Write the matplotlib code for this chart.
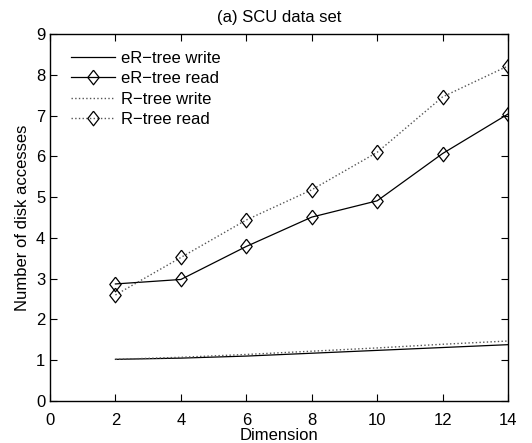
import matplotlib.pyplot as plt

plt.rcParams['font.family'] = ['Liberation Sans', 'DejaVu Sans']

dims = [2, 4, 6, 8, 10, 12, 14]
er_write = [1.02, 1.05, 1.10, 1.17, 1.24, 1.31, 1.38]
er_read = [2.87, 2.98, 3.79, 4.51, 4.91, 6.07, 7.04]
r_write = [1.02, 1.07, 1.14, 1.22, 1.30, 1.39, 1.47]
r_read = [2.60, 3.52, 4.44, 5.18, 6.10, 7.46, 8.22]

# matlab style diamond, a bit taller than wide
diamond = [(0, 1), (0.78, 0), (0, -1), (-0.78, 0), (0, 1)]

fig = plt.figure(figsize=(5.32, 4.43), dpi=100)
ax = fig.add_axes([0.094, 0.095, 0.861, 0.828])

ax.plot(dims, er_write, color='black', lw=0.9, label='eR\u2212tree write')
ax.plot(dims, er_read, color='black', lw=0.9, marker=diamond, ms=10.5, mfc='none',
        mec='black', mew=0.9, label='eR\u2212tree read')
ax.plot(dims, r_write, color='#555555', lw=1.0, ls=':', label='R\u2212tree write')
ax.plot(dims, r_read, color='#555555', lw=1.0, ls=':', marker=diamond, ms=10.5,
        mfc='none', mec='black', mew=0.9, label='R\u2212tree read')

ax.set_xlim(0, 14)
ax.set_ylim(0, 9)
ax.set_xticks(range(0, 15, 2))
ax.set_yticks(range(0, 10))
ax.tick_params(direction='in', top=True, right=True, labelsize=12, length=5, width=0.8)
ax.tick_params(axis='x', pad=9)
for s in ax.spines.values():
    s.set_linewidth(1.0)

ax.set_xlabel('Dimension', fontsize=12, labelpad=0)
ax.set_ylabel('Number of disk accesses', fontsize=12, labelpad=4)
ax.set_title('(a) SCU data set', fontsize=12, pad=9)

ax.legend(loc='upper left', bbox_to_anchor=(0.031, 0.973), frameon=False, fontsize=12,
          handlelength=2.65, handletextpad=0.35, labelspacing=0.33, borderaxespad=0)

fig.savefig('out.png', dpi=100)
